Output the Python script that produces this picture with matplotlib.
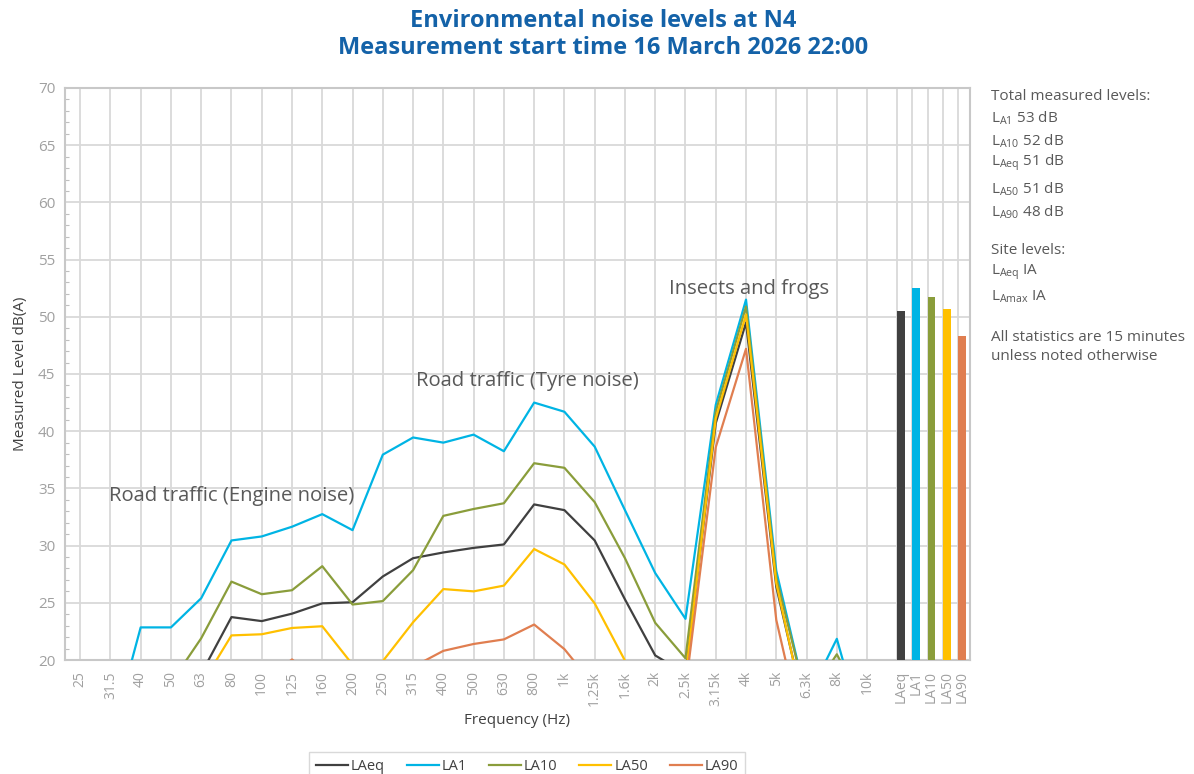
import matplotlib
matplotlib.use("Agg")
import matplotlib.pyplot as plt
import numpy as np

plt.rcParams['font.family'] = ['Open Sans', 'DejaVu Sans']
plt.rcParams['mathtext.default'] = 'regular'

bands = ['25', '31.5', '40', '50', '63', '80', '100', '125', '160', '200', '250', '315',
         '400', '500', '630', '800', '1k', '1.25k', '1.6k', '2k', '2.5k', '3.15k', '4k',
         '5k', '6.3k', '8k', '10k']

LAeq = [12, 14, 15, 16, 18.8, 23.75, 23.4, 24.05, 24.95, 25.05, 27.3, 28.9, 29.4, 29.8,
        30.1, 33.6, 33.1, 30.45, 25.3, 20.4, 18.8, 40.7, 49.5, 26.4, 15.0, 14, 12]
LA1 = [10, 13, 22.85, 22.85, 25.4, 30.45, 30.8, 31.65, 32.75, 31.35, 37.95, 39.45, 39.0,
       39.7, 38.25, 42.5, 41.7, 38.65, 33.1, 27.6, 23.6, 42.3, 51.5, 27.8, 16.5, 21.85, 12.5]
LA10 = [10, 12, 15, 18, 21.9, 26.85, 25.75, 26.1, 28.2, 24.85, 25.15, 27.85, 32.6, 33.2,
        33.7, 37.2, 36.8, 33.8, 28.9, 23.25, 20.15, 41.7, 50.9, 27.2, 16.5, 20.5, 15.5]
LA50 = [10, 11, 12, 14, 17.8, 22.15, 22.25, 22.8, 22.95, 19.6, 19.9, 23.3, 26.2, 26.0,
        26.5, 29.7, 28.35, 24.95, 19.95, 15.5, 18.5, 41.1, 50.2, 26.7, 14.7, 13, 12]
LA90 = [8, 9, 10, 12, 14, 16, 18, 20.05, 18, 16, 17, 19.4, 20.8, 21.4, 21.8, 23.1, 20.95,
        17.7, 15, 14, 17.5, 38.6, 47.2, 23.5, 12, 11, 10]

total_labels = ['LAeq', 'LA1', 'LA10', 'LA50', 'LA90']
total_values = [50.55, 52.55, 51.7, 50.7, 48.3]

colors = {'LAeq': '#404040', 'LA1': '#00B4E4', 'LA10': '#8A9D3B',
          'LA50': '#FFC000', 'LA90': '#E07E50'}

fig = plt.figure(figsize=(11.94, 7.74), dpi=100)
ax = fig.add_axes([65/1194, 1-660/774, (970-65)/1194, (660-88)/774])

x = np.arange(len(bands))
series = [('LAeq', LAeq), ('LA1', LA1), ('LA10', LA10), ('LA50', LA50), ('LA90', LA90)]
for name, vals in series:
    ax.plot(x, vals, color=colors[name], lw=1.6, label=name, zorder=3)

bar_left = len(bands) + 0.5 * np.arange(len(total_labels))
bar_w = 0.26
ax.bar(bar_left, total_values, width=bar_w, align='edge',
       color=[colors[n] for n in total_labels], zorder=3)

ax.set_xlim(-0.5, 29.4)
ax.set_ylim(20, 70)

# grid
grid_c = '#d9d9d9'
for gx in list(x) + list(bar_left):
    ax.axvline(gx, color=grid_c, lw=1.3, zorder=1)
ax.set_yticks(np.arange(20, 71, 5))
ax.yaxis.grid(True, color=grid_c, lw=1.3, zorder=1)
ax.set_yticks(np.arange(20, 71, 1), minor=True)
ax.set_axisbelow(True)

ax.set_xticks(list(x) + list(bar_left + bar_w / 2))
ax.set_xticklabels(bands + total_labels, rotation=90, fontsize=10, color='#a0a0a0')
ax.tick_params(axis='x', length=0, pad=8)
ax.tick_params(axis='y', which='major', length=0, labelsize=11, labelcolor='#a0a0a0', pad=7)
ax.tick_params(axis='y', which='minor', length=3, direction='in', color='#bfbfbf', width=0.8)

for s in ax.spines.values():
    s.set_color('#c8c8c8')
    s.set_linewidth(1.5)

ax.set_ylabel('Measured Level dB(A)', fontsize=11, color='#404040', labelpad=7)
ax.set_xlabel('Frequency (Hz)', fontsize=11, color='#404040', labelpad=5)

# annotations
ann_c = '#595959'
ax.text(0.95, 34.3, 'Road traffic (Engine noise)', fontsize=14.6, color=ann_c, va='center')
ax.text(11.1, 44.4, 'Road traffic (Tyre noise)', fontsize=14.6, color=ann_c, va='center')
ax.text(19.45, 52.4, 'Insects and frogs', fontsize=14.6, color=ann_c, va='center')

# title
fig.text(0.505, 1-21/774, 'Environmental noise levels at N4', ha='center', va='center',
         fontsize=17, fontweight='bold', color='#1462A8')
fig.text(0.505, 1-48/774, 'Measurement start time 16 March 2026 22:00', ha='center',
         va='center', fontsize=17, fontweight='bold', color='#1462A8')

# side text
side = [
    (97, 'Total measured levels:'),
    (118, r'L$_{A1}$ 53 dB'),
    (141, r'L$_{A10}$ 52 dB'),
    (163, r'L$_{Aeq}$ 51 dB'),
    (189, r'L$_{A50}$ 51 dB'),
    (212, r'L$_{A90}$ 48 dB'),
    (250, 'Site levels:'),
    (272, r'L$_{Aeq}$ IA'),
    (297, r'L$_{Amax}$ IA'),
    (338, 'All statistics are 15 minutes'),
    (357, 'unless noted otherwise'),
]
for py, t in side:
    fig.text(991/1194, 1-py/774, t, fontsize=11, color='#595959', va='center', ha='left')

leg = fig.legend(loc='upper center', bbox_to_anchor=(527/1194, 1-745/774), ncol=5,
                 frameon=True, fontsize=10.5, handlelength=2.2, columnspacing=1.5,
                 handletextpad=0.2, borderpad=0.45, fancybox=False)
leg.get_frame().set_edgecolor('#d0d0d0')
leg.get_frame().set_linewidth(1.0)
for t in leg.get_texts():
    t.set_color('#404040')

fig.savefig('out.png', dpi=100)
